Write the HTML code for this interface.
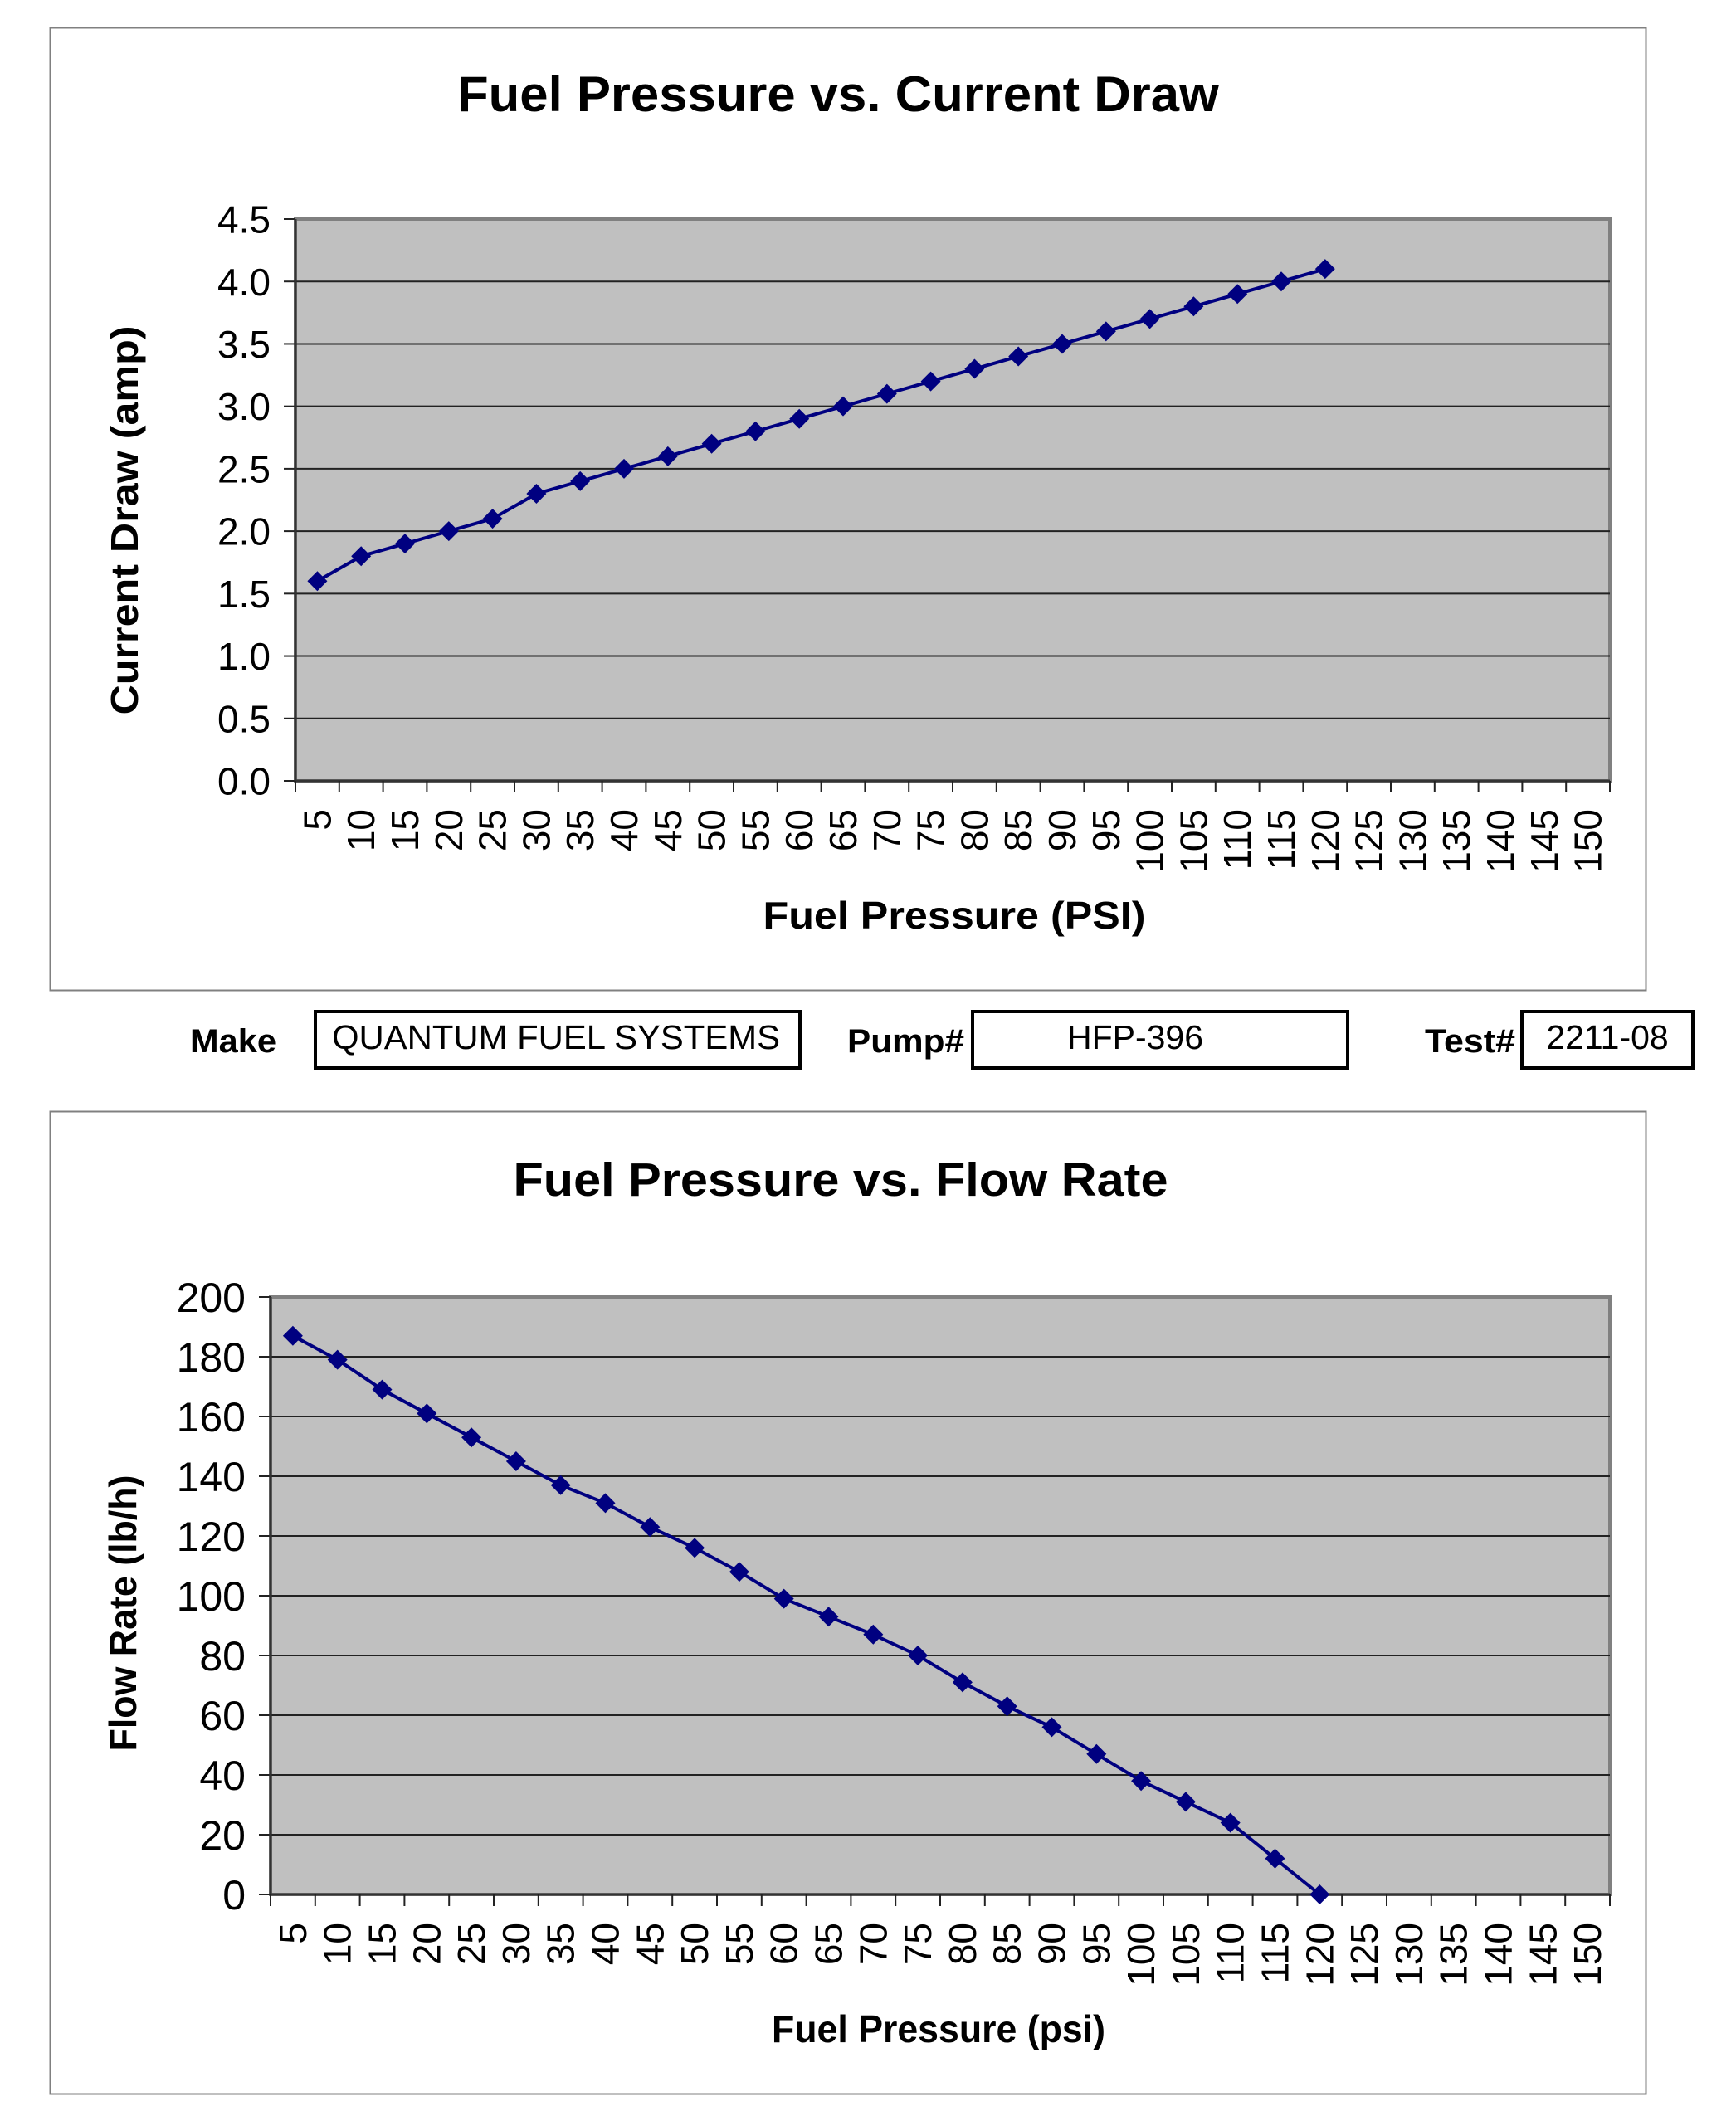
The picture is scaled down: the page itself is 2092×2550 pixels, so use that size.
<!DOCTYPE html>
<html><head><meta charset="utf-8"><style>
html,body{margin:0;padding:0;background:#fff}
svg{display:block}
text{font-family:"Liberation Sans",Arial,sans-serif}
</style></head><body>
<svg width="2092" height="2550" viewBox="0 0 2092 2550" xmlns="http://www.w3.org/2000/svg">
<rect width="2092" height="2550" fill="#fff"/>
<!-- Chart 1 -->
<rect x="60.5" y="33.5" width="1923" height="1160" fill="#fff" stroke="#808080" stroke-width="2"/>
<text x="1010" y="134" font-size="60" font-weight="bold" text-anchor="middle" textLength="918" lengthAdjust="spacingAndGlyphs">Fuel Pressure vs. Current Draw</text>
<g id="c1"></g>
<!-- info row -->
<text x="229" y="1268" font-size="40" font-weight="bold" textLength="104" lengthAdjust="spacingAndGlyphs">Make</text>
<rect x="380" y="1219" width="584" height="68" fill="#fff" stroke="#000" stroke-width="4"/>
<text x="400" y="1264" font-size="41" textLength="540" lengthAdjust="spacingAndGlyphs">QUANTUM FUEL SYSTEMS</text>
<text x="1021" y="1268" font-size="40" font-weight="bold" textLength="141" lengthAdjust="spacingAndGlyphs">Pump#</text>
<rect x="1172" y="1219" width="452" height="68" fill="#fff" stroke="#000" stroke-width="4"/>
<text x="1368" y="1264" font-size="41" text-anchor="middle">HFP-396</text>
<text x="1717" y="1268" font-size="40" font-weight="bold" textLength="109" lengthAdjust="spacingAndGlyphs">Test#</text>
<rect x="1834" y="1219" width="206" height="68" fill="#fff" stroke="#000" stroke-width="4"/>
<text x="1937" y="1264" font-size="41" text-anchor="middle">2211-08</text>
<!-- Chart 2 -->
<rect x="60.5" y="1339.5" width="1923" height="1184" fill="#fff" stroke="#808080" stroke-width="2"/>
<text x="1013" y="1441" font-size="57" font-weight="bold" text-anchor="middle" textLength="789" lengthAdjust="spacingAndGlyphs">Fuel Pressure vs. Flow Rate</text>
<g id="c2"></g>
</svg>
<script>
function build(g,o){
 var s="";
 var L=o.l,R=1940,T=o.t,B=o.b,W=(R-L)/30;
 s+='<rect x="'+L+'" y="'+T+'" width="'+(R-L)+'" height="'+(B-T)+'" fill="#c0c0c0" stroke="#808080" stroke-width="4"/>';
 for(var i=0;i<=o.n;i++){var y=B-(B-T)*i/o.n;
  if(i>0&&i<o.n)s+='<line x1="'+L+'" y1="'+y+'" x2="'+R+'" y2="'+y+'" stroke="#222" stroke-width="2"/>';
  s+='<line x1="'+(L-14)+'" y1="'+y+'" x2="'+L+'" y2="'+y+'" stroke="#222" stroke-width="2"/>';
  s+='<text x="'+(L-30)+'" y="'+(y+o.fs*0.36)+'" font-size="'+o.fs+'" text-anchor="end">'+o.lab(i)+'</text>';}
 s+='<line x1="'+L+'" y1="'+T+'" x2="'+L+'" y2="'+B+'" stroke="#333" stroke-width="3"/>';
 s+='<line x1="'+L+'" y1="'+B+'" x2="'+R+'" y2="'+B+'" stroke="#333" stroke-width="3"/>';
 for(var i=0;i<=30;i++){var x=L+W*i;s+='<line x1="'+x+'" y1="'+B+'" x2="'+x+'" y2="'+(B+14)+'" stroke="#222" stroke-width="2"/>';}
 for(var i=0;i<30;i++){var x=L+W*(i+0.5)+16;var yy=B+34;
  s+='<text transform="translate('+x+','+yy+') rotate(-90)" font-size="46" text-anchor="end">'+(5*(i+1))+'</text>';}
 var pts=o.d.map(function(v,i){return [L+W*(i+0.5),B-(B-T)*v/o.max];});
 s+='<polyline fill="none" stroke="#000080" stroke-width="4" points="'+pts.map(function(p){return p.join(",")}).join(" ")+'"/>';
 pts.forEach(function(p){var r=12;s+='<polygon fill="#000080" points="'+p[0]+','+(p[1]-r)+' '+(p[0]+r)+','+p[1]+' '+p[0]+','+(p[1]+r)+' '+(p[0]-r)+','+p[1]+'"/>';});
 s+='<text transform="translate('+o.yx+','+o.yc+') rotate(-90)" font-size="46" font-weight="bold" text-anchor="middle" textLength="'+o.yl+'" lengthAdjust="spacingAndGlyphs">'+o.yt+'</text>';
 s+='<text x="'+o.xc+'" y="'+o.xy+'" font-size="46" font-weight="bold" text-anchor="middle" textLength="'+o.xl+'" lengthAdjust="spacingAndGlyphs">'+o.xt+'</text>';
 document.getElementById(g).innerHTML=s;
}
build("c1",{l:356,t:264,b:941,n:9,max:4.5,fs:46,lab:function(i){return (i*0.5).toFixed(1)},
 d:[1.6,1.8,1.9,2.0,2.1,2.3,2.4,2.5,2.6,2.7,2.8,2.9,3.0,3.1,3.2,3.3,3.4,3.5,3.6,3.7,3.8,3.9,4.0,4.1],
 yx:166,yc:627,yl:469,yt:"Current Draw (amp)",xc:1150,xy:1119,xl:461,xt:"Fuel Pressure (PSI)"});
build("c2",{l:326,t:1563,b:2283,n:10,max:200,fs:50,lab:function(i){return i*20},
 d:[187,179,169,161,153,145,137,131,123,116,108,99,93,87,80,71,63,56,47,38,31,24,12,0],
 yx:164,yc:1944,yl:333,yt:"Flow Rate (lb/h)",xc:1131,xy:2461,xl:402,xt:"Fuel Pressure (psi)"});
</script>
</body></html>
